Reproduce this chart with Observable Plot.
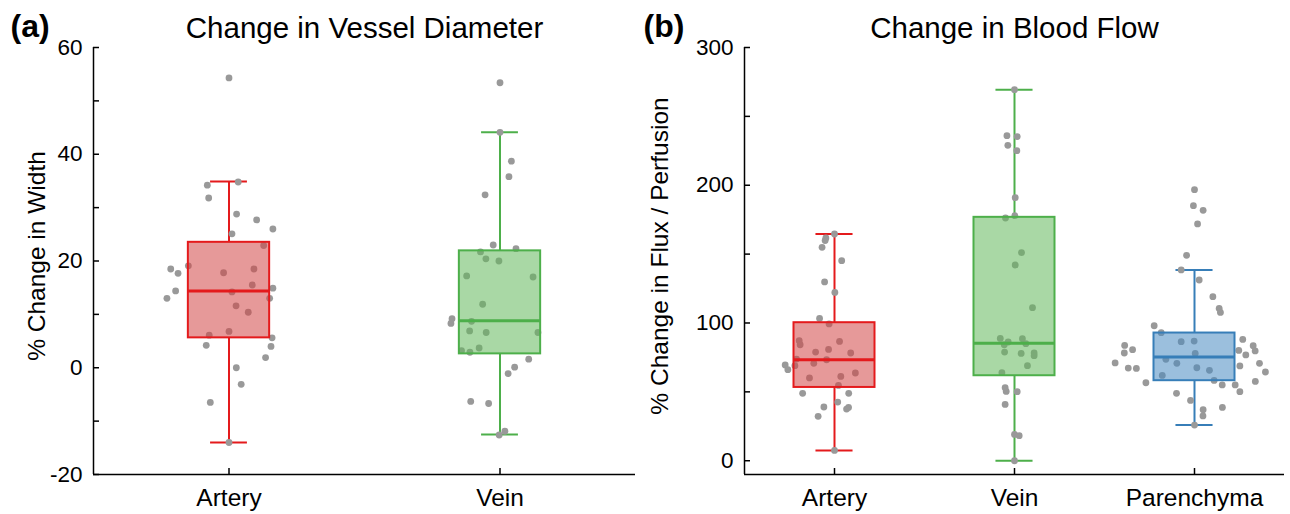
<!DOCTYPE html>
<html>
<head>
<meta charset="utf-8">
<script src="https://cdn.jsdelivr.net/npm/d3@7"></script>
<script src="https://cdn.jsdelivr.net/npm/@observablehq/plot@0.6"></script>
<style>
  body { margin: 0; background: #fff; }
  #wrap { position: relative; width: 1290px; height: 514px; font-family: "Liberation Sans", Arial, sans-serif; }
  #wrap svg { position: absolute; top: 0; }
</style>
</head>
<body>
<div id="wrap"></div>
<script>
// ---------- Panel (a): Change in Vessel Diameter ----------
const diameterCategories = ["Artery", "Vein"];
const diameterWhiskerLow  = [-14.0, -12.5];
const diameterQ1          = [5.6, 2.6];
const diameterMedian      = [14.4, 8.8];
const diameterQ3          = [23.5, 21.9];
const diameterWhiskerHigh = [34.9, 44.1];
const diameterStroke = ["#e41a1c", "#4daf4a"];
const diameterFill   = ["#d24646", "#63b85b"];
const diameterTicks = [-20, -10, 0, 10, 20, 30, 40, 50, 60];

const diameterArteryValues = [54.3, 34.2, 34.8, 31.8, 28.8, 27.7, 26.0, 25.1, 22.9, 18.5, 17.7, 19.1, 17.8, 18.5, 15.5, 14.4, 13.0, 14.9, 14.2, 13.0, 11.6, 10.4, 6.8, 6.1, 4.2, 5.6, 4.0, 1.9, 0.0, -3.1, -6.5, -14.0];
const diameterArteryJitter = [0, -0.08, 0.034, -0.075, 0.028, 0.102, 0.162, 0.011, 0.128, -0.215, -0.188, -0.15, -0.02, 0.092, 0.086, -0.197, -0.229, 0.162, 0.011, 0.15, 0.026, 0.071, 0, -0.073, -0.084, 0.159, 0.155, 0.135, 0.027, 0.045, -0.069, 0];
const diameterVeinValues = [53.4, 44.1, 38.7, 35.8, 32.4, 23.0, 22.3, 21.7, 20.4, 20.0, 17.2, 17.0, 11.9, 9.2, 8.3, 8.7, 6.9, 6.6, 6.6, 3.2, 2.9, 3.7, 1.6, 0.1, -1.1, -6.3, -6.7, -11.9, -12.6];
const diameterVeinJitter = [0, 0, 0.042, 0.033, -0.055, -0.025, 0.059, -0.072, -0.052, -0.004, -0.123, 0.122, -0.064, -0.177, -0.181, -0.105, -0.112, -0.051, 0.14, -0.142, -0.111, -0.077, 0.106, 0.054, 0.03, -0.108, -0.042, 0.018, -0.003];

// ---------- Panel (b): Change in Blood Flow ----------
const flowCategories = ["Artery", "Vein", "Parenchyma"];
const flowWhiskerLow  = [7.5, 0.0, 25.9];
const flowQ1          = [53.2, 61.7, 58.1];
const flowMedian      = [73.3, 85.2, 75.3];
const flowQ3          = [100.2, 176.7, 92.7];
const flowWhiskerHigh = [164.6, 269.4, 138.5];
const flowStroke = ["#e41a1c", "#4daf4a", "#377eb8"];
const flowFill   = ["#d24646", "#63b85b", "#498ac1"];
const flowTicks = [0, 50, 100, 150, 200, 250, 300];

const flowArteryValues = [164.6, 161.7, 159.8, 154.9, 145.2, 129.8, 122.2, 103.3, 99.3, 87.1, 84.2, 86.6, 78.9, 80.8, 78.2, 73.3, 73.8, 70.7, 69.5, 66.1, 69.0, 63.7, 60.1, 61.2, 54.7, 48.9, 48.9, 42.6, 39.0, 38.7, 37.5, 32.2, 7.5];
const flowArteryJitter = [0, -0.048, -0.052, -0.069, 0.040, -0.055, 0.002, -0.083, -0.030, -0.196, -0.191, 0.028, -0.105, -0.033, 0.090, -0.044, -0.211, -0.115, -0.274, -0.259, -0.220, 0.116, -0.139, 0.035, 0.022, -0.177, 0.079, 0.018, -0.059, 0.078, 0.067, -0.091, 0];
const flowVeinValues = [269.4, 236.0, 235.3, 229.0, 225.1, 191.0, 176.2, 177.9, 151.1, 142.1, 111.1, 88.8, 86.2, 88.6, 85.0, 84.2, 78.9, 77.9, 78.2, 76.3, 69.0, 63.9, 53.0, 50.3, 50.1, 40.9, 19.1, 18.2, 0];
const flowVeinJitter = [0, -0.042, 0.015, -0.037, 0.013, 0.004, -0.050, 0.002, 0.039, 0.004, 0.100, -0.079, -0.035, 0.044, 0.063, -0.057, -0.055, 0.037, 0.109, 0.109, 0.072, -0.070, -0.052, -0.046, 0.015, -0.052, 0, 0.026, 0];
const flowParenchymaValues = [196.8, 185.2, 181.8, 171.9, 149.1, 138.5, 131.2, 119.1, 110.6, 107.7, 98.0, 93.0, 88.1, 86.4, 86.9, 83.7, 83.5, 78.2, 80.6, 80.1, 79.7, 77.9, 76.8, 71.0, 73.6, 70.7, 70.7, 67.3, 67.0, 67.5, 68.8, 65.6, 64.4, 61.9, 58.3, 56.6, 55.0, 55.0, 57.6, 50.1, 48.9, 43.8, 38.7, 37.0, 32.5, 25.9];
const flowParenchymaJitter = [0, -0.006, 0.048, 0.017, -0.044, -0.074, 0.026, 0.102, 0.137, 0.144, -0.224, -0.185, 0.268, -0.074, -0.002, -0.388, 0.326, -0.390, -0.344, 0.246, 0.337, 0.004, 0.285, -0.441, -0.159, -0.098, 0.361, -0.368, -0.323, 0.013, 0.252, 0.083, 0.394, -0.179, 0.109, -0.270, 0.154, 0.226, 0.338, 0.252, -0.100, -0.022, 0.155, 0.048, 0.047, 0];

const FONT = "'Liberation Sans', Arial, sans-serif";
const HEIGHT = 514, MT = 47, MB = 40, TICK = 6;

function panel(cfg) {
  const boxes = cfg.cats.map((c, i) => ({
    x: i + 1, low: cfg.low[i], q1: cfg.q1[i], med: cfg.med[i], q3: cfg.q3[i], high: cfg.high[i],
    stroke: cfg.stroke[i], fill: cfg.fill[i]
  }));
  const pts = cfg.values.flatMap((vals, i) => vals.map((v, j) => ({x: i + 1 + cfg.jitter[i][j], y: v})));
  const bh = cfg.boxHalf, ch = cfg.capHalf;
  const y0 = cfg.yDomain[0];
  const innerW = cfg.width - cfg.marginLeft - cfg.marginRight;
  const innerH = HEIGHT - MT - MB;
  const xTicks = d3.range(1, cfg.cats.length + 1);
  return Plot.plot({
    width: cfg.width, height: HEIGHT,
    marginLeft: cfg.marginLeft, marginRight: cfg.marginRight, marginTop: MT, marginBottom: MB,
    x: {domain: [0.5, cfg.cats.length + 0.5]},
    y: {domain: cfg.yDomain},
    color: {type: "identity"},
    style: {fontFamily: FONT, fontSize: "22px", color: "#000", background: "transparent", overflow: "visible"},
    marks: [
      Plot.ruleX(boxes, {x: "x", y1: "low", y2: "q1", stroke: "stroke", strokeWidth: 2}),
      Plot.ruleX(boxes, {x: "x", y1: "q3", y2: "high", stroke: "stroke", strokeWidth: 2}),
      Plot.ruleY(boxes, {y: "low", x1: d => d.x - ch, x2: d => d.x + ch, stroke: "stroke", strokeWidth: 2}),
      Plot.ruleY(boxes, {y: "high", x1: d => d.x - ch, x2: d => d.x + ch, stroke: "stroke", strokeWidth: 2}),
      Plot.dot(pts, {x: "x", y: "y", r: 3.4, fill: "#999999", stroke: "none"}),
      Plot.rect(boxes, {x1: d => d.x - bh, x2: d => d.x + bh, y1: "q1", y2: "q3", fill: "fill", fillOpacity: 0.55}),
      Plot.rect(boxes, {x1: d => d.x - bh, x2: d => d.x + bh, y1: "q1", y2: "q3", fill: "none", stroke: "stroke", strokeWidth: 2}),
      Plot.ruleY(boxes, {y: "med", x1: d => d.x - bh, x2: d => d.x + bh, stroke: "stroke", strokeWidth: 3}),
      // inward ticks
      Plot.tickY(cfg.yTicks, {y: d => d, insetRight: innerW - TICK, stroke: "#000", strokeWidth: 1.5}),
      Plot.tickX(xTicks, {x: d => d, insetTop: innerH - TICK, stroke: "#000", strokeWidth: 1.5}),
      Plot.ruleX([0.5], {stroke: "#000", strokeWidth: 1.5}),
      Plot.ruleY([y0], {stroke: "#000", strokeWidth: 1.5}),
      Plot.axisY({ticks: cfg.yTicks.filter(d => d % cfg.labelEvery === 0), tickSize: 0, tickPadding: 11,
        tickFormat: d => String(d), label: null, fontSize: 22.5}),
      Plot.axisX({ticks: xTicks, tickSize: 0, tickPadding: 14,
        tickFormat: i => cfg.cats[i - 1], label: null, fontSize: 24.5}),
      Plot.text([cfg.title], {frameAnchor: "top", lineAnchor: "bottom", dy: -10, fontSize: 29.5, fill: "#000"}),
      Plot.text([cfg.letter], {frameAnchor: "top-left", textAnchor: "start", lineAnchor: "bottom",
        dx: cfg.letterDx, dy: -11, fontSize: 32, fontWeight: "bold", fill: "#000"}),
      Plot.text([cfg.yLabel], {frameAnchor: "left", rotate: -90, textAnchor: "middle", lineAnchor: "middle",
        dx: cfg.labelDx, dy: -5, fontSize: 24.5, fill: "#000"})
    ]
  });
}

const wrap = document.getElementById("wrap");

const svgA = panel({
  cats: diameterCategories, low: diameterWhiskerLow, q1: diameterQ1, med: diameterMedian, q3: diameterQ3, high: diameterWhiskerHigh,
  stroke: diameterStroke, fill: diameterFill,
  values: [diameterArteryValues, diameterVeinValues], jitter: [diameterArteryJitter, diameterVeinJitter],
  yDomain: [-20, 60], yTicks: diameterTicks, labelEvery: 20,
  width: 640, marginLeft: 93, marginRight: 5, boxHalf: 0.15, capHalf: 0.068,
  title: "Change in Vessel Diameter", letter: "(a)", letterDx: -83,
  yLabel: "% Change in Width", labelDx: -56
});
svgA.style.left = "0px";
wrap.appendChild(svgA);

const svgB = panel({
  cats: flowCategories, low: flowWhiskerLow, q1: flowQ1, med: flowMedian, q3: flowQ3, high: flowWhiskerHigh,
  stroke: flowStroke, fill: flowFill,
  values: [flowArteryValues, flowVeinValues, flowParenchymaValues],
  jitter: [flowArteryJitter, flowVeinJitter, flowParenchymaJitter],
  yDomain: [-10, 300], yTicks: flowTicks, labelEvery: 100,
  width: 650, marginLeft: 104, marginRight: 6, boxHalf: 0.225, capHalf: 0.103,
  title: "Change in Blood Flow", letter: "(b)", letterDx: -101,
  yLabel: "% Change in Flux / Perfusion", labelDx: -84
});
svgB.style.left = "640px";
wrap.appendChild(svgB);
</script>
</body>
</html>
